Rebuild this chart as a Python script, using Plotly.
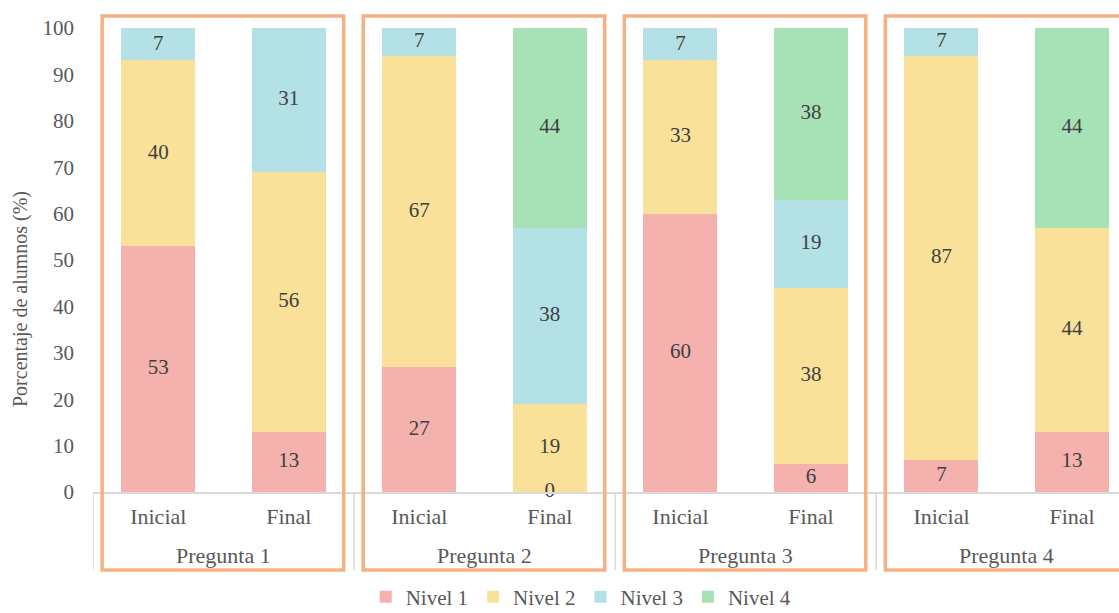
import plotly.graph_objects as go

# Stacked shares of students per level, before (Inicial) and after (Final) each question
preguntas = ["Pregunta 1", "Pregunta 2", "Pregunta 3", "Pregunta 4"]
momentos = ["Inicial", "Final"] * 4

nivel1 = [53, 13, 27, 0, 60, 6, 7, 13]
nivel2 = [40, 56, 67, 19, 33, 38, 87, 44]
nivel3 = [7, 31, 7, 38, 7, 19, 7, None]
nivel4 = [None, None, None, 44, None, 38, None, 44]

series = [
    ("Nivel 1", nivel1, "#F4B1AE"),
    ("Nivel 2", nivel2, "#F9E19A"),
    ("Nivel 3", nivel3, "#B3E1E6"),
    ("Nivel 4", nivel4, "#A7E2B6"),
]

FONT = "Liberation Serif"
GRAY = "#595959"
LABEL = "#404040"
DIV = "#D9D9D9"
Y_MAX = 100

# one slot per bar; each question occupies two consecutive slots
pos = list(range(len(momentos)))

fig = go.Figure()
base = [0.0] * len(pos)
lab_x, lab_y, lab_t = [], [], []
for name, vals, color in series:
    fig.add_trace(go.Bar(
        name=name, x=pos, y=vals,
        marker=dict(color=color, line=dict(width=0)),
        width=0.567, hoverinfo="skip",
    ))
    # value label at the middle of the visible part of each segment
    for i, v in enumerate(vals):
        if v is None:
            continue
        lo = min(base[i], Y_MAX)
        hi = min(base[i] + v, Y_MAX)
        lab_x.append(pos[i])
        lab_y.append((lo + hi) / 2)
        lab_t.append(str(v))
        base[i] += v

fig.add_trace(go.Scatter(
    x=lab_x, y=lab_y, mode="text", text=lab_t,
    textfont=dict(family=FONT, size=21, color=LABEL),
    textposition="middle center", showlegend=False, cliponaxis=False,
    hoverinfo="skip",
))

x_lo, x_hi = -0.5, 7.36
plot_h = 613 - 28 - 121
def below(px):
    """paper y for a point px pixels under the x axis line"""
    return -px / plot_h

def to_paper(v):
    return (v - x_lo) / (x_hi - x_lo)

# question labels and table-style dividers under the axis
for g, q in enumerate(preguntas):
    fig.add_annotation(
        x=2 * g + 0.5, xref="x", y=below(63), yref="paper",
        text=q, showarrow=False, yanchor="middle",
        font=dict(family=FONT, size=22, color=GRAY),
    )
    fig.add_shape(
        type="line", xref="x", yref="paper",
        x0=2 * g - 0.5, x1=2 * g - 0.5, y0=0, y1=below(78),
        line=dict(color=DIV, width=1.5),
    )

# orange frames around each question's pair of bars
for g in range(len(preguntas)):
    fig.add_shape(
        type="rect", xref="paper", yref="paper",
        x0=to_paper(2 * g - 0.43), x1=to_paper(2 * g + 1.42),
        y0=below(78), y1=1 + 12 / plot_h,
        line=dict(color="#F4B183", width=3.5), fillcolor="rgba(0,0,0,0)",
        layer="above",
    )

# y title centred on the bars plus the category band
fig.add_annotation(
    x=-73 / 1026, xref="paper", y=(plot_h - (299 - 28)) / plot_h, yref="paper",
    text="Porcentaje de alumnos (%)", textangle=-90, showarrow=False,
    xanchor="center", yanchor="middle",
    font=dict(family=FONT, size=20, color=GRAY),
)

fig.update_layout(
    barmode="stack",
    width=1119, height=613,
    margin=dict(l=93, r=0, t=28, b=121, autoexpand=False),
    paper_bgcolor="white", plot_bgcolor="white",
    font=dict(family=FONT, color=GRAY, size=21),
    showlegend=True,
    legend=dict(
        orientation="h", x=to_paper(3.24), xanchor="center",
        yref="paper", y=below(105), yanchor="middle",
        font=dict(family=FONT, size=21, color=GRAY),
        traceorder="normal", itemwidth=30,
    ),
    xaxis=dict(
        range=[x_lo, x_hi],
        tickvals=pos, ticktext=momentos,
        showline=True, linecolor=DIV, linewidth=1.5,
        showgrid=False, zeroline=False, ticks="", ticklabelstandoff=4,
        tickfont=dict(family=FONT, size=22, color=GRAY),
    ),
    yaxis=dict(
        range=[0, Y_MAX], dtick=10, showgrid=False, zeroline=False,
        showline=False, ticks="", ticklabelstandoff=18,
        tickfont=dict(family=FONT, size=21, color=GRAY),
    ),
)

fig.write_html("out.html")
